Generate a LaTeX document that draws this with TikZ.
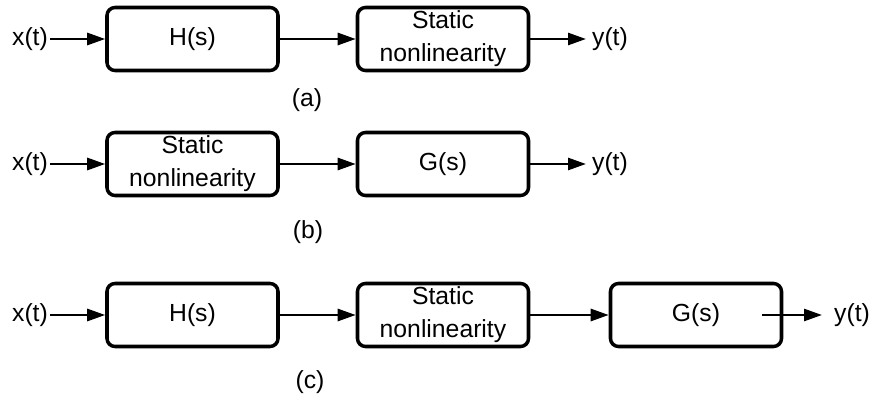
\documentclass[tikz,border=0pt]{standalone}
\usepackage{fontspec}
\setmainfont{Liberation Sans}
\usepackage{tikz}
\usetikzlibrary{arrows.meta}
\tikzset{blk/.style={draw,line width=2.5pt,rounded corners=0.2cm,minimum width=4.275cm,minimum height=1.575cm,align=center,inner sep=0pt},
  sig/.style={inner sep=0.02cm}}

\begin{document}
\begin{tikzpicture}[>={Triangle[length=0.45cm,width=0.3cm]},line join=round,line width=1.9pt,font=\fontsize{17.6}{23.5}\selectfont]
\useasboundingbox (0,0) rectangle (21.75,-9.875);
% --- (a) linear block first, then the static nonlinearity
\node[sig] (xa) at (0.75,-0.975) {x(t)};
\node[blk] (ha) at (4.8125,-0.975) {H(s)};
\node[blk] (na) at (11.075,-0.975) {Static\\nonlinearity};
\node[sig,anchor=west] (ya) at (14.75,-0.975) {y(t)};
\draw[->] (xa) -- (ha); \draw[->] (ha) -- (na); \draw[->,shorten >=0.1cm] (na) -- (ya);
\node (la) at (7.675,-2.5) {(a)};
% --- (b) static nonlinearity first, then G(s)
\node[sig] (xb) at (0.75,-4.1) {x(t)};
\node[blk] (nb) at (4.8125,-4.1) {Static\\nonlinearity};
\node[blk] (gb) at (11.075,-4.1) {G(s)};
\node[sig,anchor=west] (yb) at (14.75,-4.1) {y(t)};
\draw[->] (xb) -- (nb); \draw[->] (nb) -- (gb); \draw[->,shorten >=0.1cm] (gb) -- (yb);
\node (lb) at (7.7,-5.8) {(b)};
% --- (c) H(s), nonlinearity, G(s) in a row
\node[sig] (xc) at (0.75,-7.875) {x(t)};
\node[blk] (hc) at (4.8125,-7.875) {H(s)};
\node[blk] (nc) at (11.075,-7.875) {Static\\nonlinearity};
\node[blk] (gc) at (17.4,-7.875) {G(s)};
\coordinate (gout) at (19.05,-7.875);
\node[sig,anchor=west] (yc) at (20.8,-7.875) {y(t)};
\draw[->] (xc) -- (hc); \draw[->] (hc) -- (nc); \draw[->] (nc) -- (gc);
\draw[->,shorten >=0.25cm] (gout) -- (yc);
\node (lc) at (7.75,-9.55) {(c)};
\end{tikzpicture}
\end{document}
